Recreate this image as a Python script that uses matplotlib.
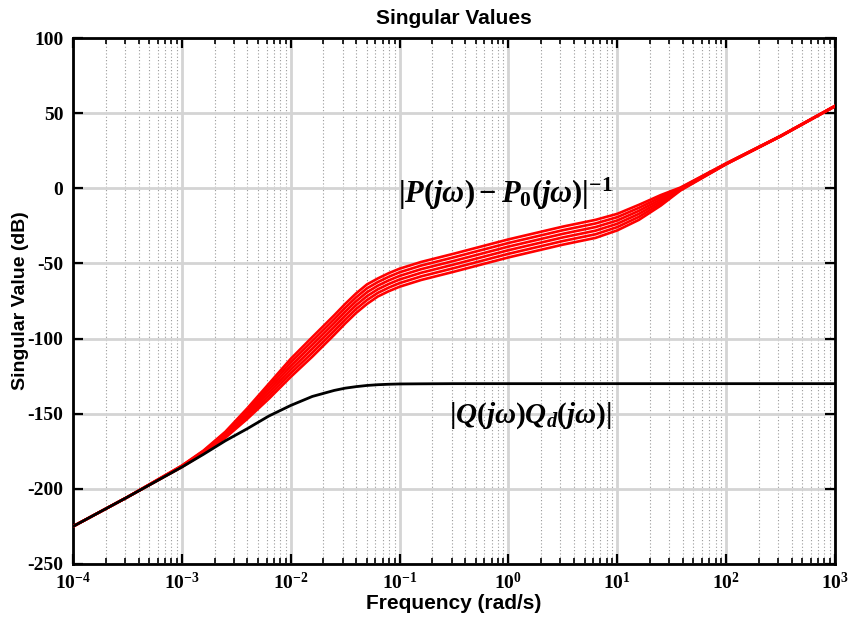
import numpy as np
import matplotlib
matplotlib.use("Agg")
import matplotlib.pyplot as plt
from matplotlib.ticker import FixedLocator, FuncFormatter, LogLocator, NullFormatter

plt.rcParams["axes.unicode_minus"] = False
plt.rcParams["mathtext.fontset"] = "custom"
plt.rcParams["mathtext.rm"] = "Liberation Serif:bold"
plt.rcParams["mathtext.bf"] = "Liberation Serif:bold"
plt.rcParams["mathtext.it"] = "Liberation Serif:bold:italic"

# frequency grid (rad/s)
freq = [1e-4, 3.16e-4, 1e-3, 1.58e-3, 2.51e-3, 3.98e-3, 6.31e-3, 1e-2, 1.58e-2, 2.51e-2,
        3.16e-2, 3.98e-2, 5.01e-2, 6.31e-2, 7.94e-2, 0.1, 0.158, 0.316, 1.0, 3.16,
        6.31, 10.0, 15.8, 25.1, 38.0, 100.0, 316.0, 1000.0]

# |P(jw) - P0(jw)|^-1 for the set of plant variations (dB)
inv_unc_1 = [-225, -205.5, -185.5, -176.5, -166, -153.5, -140, -125.5, -112, -97.5,
             -90, -83, -77, -72, -68.5, -65.5, -61, -55.5, -46, -37.5,
             -33, -28, -21, -11.5, -1.5, 16, 34.5, 54.5]
inv_unc_2 = [-225, -205.5, -185.3, -176.1, -165.2, -152.1, -138, -123.1, -109.4, -94.9,
             -87.4, -80.4, -74.4, -69.6, -66.1, -63.1, -58.6, -53.1, -43.6, -35.1,
             -30.6, -25.8, -19, -10.1, -1.1, 16.1, 34.6, 54.6]
inv_unc_3 = [-225, -205.5, -185.1, -175.7, -164.4, -150.7, -136, -120.7, -106.8, -92.3,
             -84.8, -77.8, -71.8, -67.2, -63.7, -60.7, -56.2, -50.7, -41.2, -32.7,
             -28.2, -23.6, -17, -8.7, -0.7, 16.2, 34.7, 54.7]
inv_unc_4 = [-225, -205.5, -184.9, -175.3, -163.6, -149.3, -134, -118.3, -104.2, -89.7,
             -82.2, -75.2, -69.2, -64.8, -61.3, -58.3, -53.8, -48.3, -38.8, -30.3,
             -25.8, -21.4, -15, -7.3, -0.3, 16.4, 34.7, 54.7]
inv_unc_5 = [-225, -205.5, -184.7, -174.9, -162.8, -147.9, -132, -115.9, -101.6, -87.1,
             -79.6, -72.6, -66.6, -62.4, -58.9, -55.9, -51.4, -45.9, -36.4, -27.9,
             -23.4, -19.2, -13, -5.9, 0.1, 16.5, 34.8, 54.8]
inv_unc_6 = [-225, -205.5, -184.5, -174.5, -162, -146.5, -130, -113.5, -99, -84.5,
             -77, -70, -64, -60, -56.5, -53.5, -49, -43.5, -34, -25.5,
             -21, -17, -11, -4.5, 0.5, 16.6, 34.9, 54.9]

# |Q(jw) Qd(jw)| (dB)
q_qd = [-225, -205.5, -185.5, -177, -168, -160, -151.5, -144.5, -138.5, -134.5,
        -133, -132, -131.2, -130.7, -130.4, -130.2, -130.1, -130, -130, -130,
        -130, -130, -130, -130, -130, -130, -130, -130]

y_ticks = [-250, -200, -150, -100, -50, 0, 50, 100]
x_decades = [1e-4, 1e-3, 1e-2, 1e-1, 1e0, 1e1, 1e2, 1e3]

fig = plt.figure(figsize=(8.61, 6.17), dpi=100)
ax = fig.add_axes([0.0848, 0.0859, 0.885, 0.8525])

for curve in (inv_unc_1, inv_unc_2, inv_unc_3, inv_unc_4, inv_unc_5, inv_unc_6):
    ax.semilogx(freq, curve, color="red", lw=1.9, zorder=3)
ax.semilogx(freq, q_qd, color="black", lw=2.0, zorder=4)

ax.set_xlim(1e-4, 1e3)
ax.set_ylim(-250, 100)
ax.yaxis.set_major_locator(FixedLocator(y_ticks))
ax.xaxis.set_major_locator(FixedLocator(x_decades))
ax.xaxis.set_minor_locator(LogLocator(base=10, subs=np.arange(2, 10), numticks=20))
ax.xaxis.set_minor_formatter(NullFormatter())
ax.xaxis.set_major_formatter(
    FuncFormatter(lambda v, _: r"$10^{%d}$" % int(round(np.log10(v)))))

# grid: solid light major lines, dotted minor decades
ax.grid(True, which="major", color="#d4d4d4", lw=2.0, ls="-", zorder=0)
ax.grid(True, which="minor", axis="x", color="#9a9a9a", lw=0.8, ls=(0, (1, 2)), zorder=0)
ax.set_axisbelow(True)

for s in ax.spines.values():
    s.set_linewidth(2.0)
ax.tick_params(which="both", direction="in", top=True, right=True)
ax.tick_params(which="major", length=7, width=1.6)
ax.tick_params(which="minor", length=4, width=1.2)
ax.tick_params(axis="x", which="major", pad=6)
ax.tick_params(axis="y", which="major", pad=7)
for lbl in ax.get_yticklabels() + ax.get_xticklabels():
    lbl.set_fontfamily("Liberation Serif")
    lbl.set_fontweight("bold")
    lbl.set_fontsize(14)

ax.set_title("Singular Values", fontsize=15, fontweight="bold",
             family="Liberation Sans", pad=10)
ax.set_xlabel("Frequency (rad/s)", fontsize=15, fontweight="bold",
              family="Liberation Sans", labelpad=0)
ax.set_ylabel("Singular Value (dB)", fontsize=14, fontweight="bold",
              family="Liberation Sans", labelpad=-1)

ax.text(0.93, -4, r"$|P(j\omega)-P_0(j\omega)|^{-1}$", fontsize=22,
        ha="center", va="center", color="black", zorder=5)
ax.text(1.58, -151, r"$|Q(j\omega)Q_d(j\omega)|$", fontsize=21,
        ha="center", va="center", color="black", zorder=5)

fig.savefig("out.png", dpi=100)
